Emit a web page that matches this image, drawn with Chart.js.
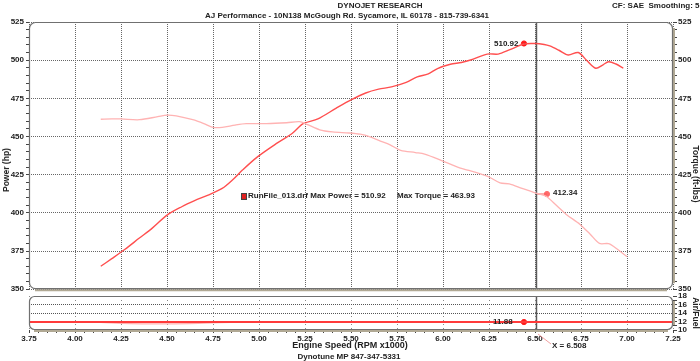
<!DOCTYPE html>
<html><head><meta charset="utf-8">
<script src="https://cdn.jsdelivr.net/npm/chart.js@4.4.1/dist/chart.umd.min.js"></script>
<style>
html,body{margin:0;padding:0;background:#fff;width:700px;height:361px;overflow:hidden;font-family:"Liberation Sans",Arial,sans-serif;}
canvas{position:absolute;left:0;}
#c1{top:0;}
#c2{top:290px;}
.t{position:absolute;white-space:nowrap;color:#222;font-weight:bold;font-size:8px;line-height:8px;}
.c{transform:translateX(-50%);}
</style></head><body>
<canvas id="c1" width="700" height="296" style="width:700px;height:296px"></canvas>
<canvas id="c2" width="700" height="71" style="width:700px;height:71px"></canvas>

<div class="t c" style="left:380px;top:2px;">DYNOJET RESEARCH</div>
<div class="t c" style="left:347px;top:12px;">AJ Performance - 10N138 McGough Rd. Sycamore, IL 60178 - 815-739-6341</div>
<div class="t" style="left:612px;top:2px;">CF: SAE&nbsp;&nbsp;Smoothing: 5</div>
<div class="t" style="left:6px;top:170px;transform:translate(-50%,-50%) rotate(-90deg);font-size:8.5px;">Power (hp)</div>
<div class="t" style="left:696px;top:174px;transform:translate(-50%,-50%) rotate(90deg);font-size:8.5px;">Torque (ft-lbs)</div>
<div class="t" style="left:696px;top:313px;transform:translate(-50%,-50%) rotate(90deg);font-size:8.5px;">Air/Fuel</div>
<div class="t c" style="left:350px;top:341px;font-size:9px;line-height:9px;">Engine Speed (RPM x1000)</div>
<div class="t c" style="left:349px;top:353px;">Dynotune MP 847-347-5331</div>
<div class="t" style="left:552px;top:342px;">X = 6.508</div>
<svg style="position:absolute;left:0;top:0" width="700" height="361"><line x1="538" y1="334" x2="551" y2="344" stroke="#f2a0a0" stroke-width="1"/></svg>

<div class="t" style="left:494px;top:40px;">510.92</div>
<div class="t" style="left:553px;top:189px;">412.34</div>
<div class="t" style="left:493px;top:318px;">11.88</div>
<div style="position:absolute;left:241px;top:193px;width:4px;height:5px;background:#e02020;border:1px solid #444;"></div>
<div class="t" style="left:248px;top:192px;">RunFile_013.drf Max Power = 510.92</div>
<div class="t" style="left:397px;top:192px;">Max Torque = 463.93</div>

<script>
// ---------- data ----------
const rpmPower = [4.14,4.20,4.27,4.35,4.42,4.50,4.58,4.65,4.72,4.80,4.86,4.91,4.99,5.10,5.18,5.24,5.32,5.42,5.50,5.58,5.65,5.72,5.80,5.86,5.92,5.97,6.04,6.10,6.15,6.24,6.30,6.36,6.44,6.50,6.55,6.58,6.63,6.68,6.735,6.78,6.83,6.87,6.90,6.94,6.98];
const powerHp = [365,370,376,383.5,390,398.5,404,408,411.5,416,422,428,436.5,445.8,452,458.4,461.5,468.6,474,478.5,481,482.5,485.5,489,491,494.5,497.3,498.5,500.1,504,504,506.7,510.6,510.9,510.3,509.3,506.5,503.4,505,500,494.7,497,499,497.5,494.7];
const rpmTorque = [4.14,4.20,4.25,4.35,4.45,4.50,4.55,4.64,4.70,4.75,4.80,4.87,4.93,5.04,5.15,5.22,5.26,5.33,5.40,5.49,5.55,5.60,5.66,5.71,5.77,5.85,5.90,5.99,6.09,6.15,6.20,6.25,6.31,6.36,6.43,6.50,6.56,6.62,6.67,6.745,6.80,6.85,6.90,6.95,7.00];
const torqueFtLb = [461.3,461.5,461.5,461,463,464,463.5,461,458.5,456,456,457.5,458.4,458.4,459,459.7,458,454.4,453,452.3,451.5,450,447,444.7,441,439.5,438.5,434.4,429.4,427.5,425.7,423.5,419.6,419,416,413.1,410.9,404.5,399,392.4,386,380,379.8,376,371.3];
const rpmAfr = [3.75,4.50,5.25,6.00,6.50,7.25];
const afrMain = [11.9,11.9,11.9,11.88,11.88,11.88];
const rpmAfr2 = [4.14,4.30,4.50,4.70,4.90,5.50,6.00];
const afrSecond = [11.8,11.5,11.45,11.6,11.85,11.85,11.85];
const cursorRpm = 6.508;
const maxPower = {rpm:6.44, value:510.92};
const torqueAtCursor = {rpm:6.565, value:412.34};
const afrAtCursor = {rpm:6.44, value:11.88};

const xMajor = [3.75,4.00,4.25,4.50,4.75,5.00,5.25,5.50,5.75,6.00,6.25,6.50,6.75,7.00,7.25];
const xLabels = ['3.75','4.00','4.25','4.50','4.75','5.00','5.25','5.50','5.75','6.00','6.25','6.50','6.75','7.00','7.25'];
const yMajor = [350,375,400,425,450,475,500,525];
const afrMajor = [10,12,14,16,18];
const afrGrid = [12,14,16];

// ---------- helpers ----------
const near = (v, arr) => arr.findIndex(m => Math.abs(m - v) < 1e-6);
const tickFont = {family:'Liberation Sans', size:8, weight:'bold'};
const pts = (xs, ys) => xs.map((x,i)=>({x, y: ys[i]}));

const framePlugin = {
  id:'frame',
  afterDraw(chart, args, opts){
    const {ctx, chartArea:a} = chart;
    const r = opts.r || 5;
    ctx.save();
    ctx.strokeStyle = '#b1a994'; ctx.lineWidth = 2;
    ctx.beginPath(); ctx.moveTo(a.left + r, a.bottom + 1); ctx.lineTo(a.right - r, a.bottom + 1); ctx.stroke();
    ctx.beginPath(); ctx.moveTo(a.right + 1, a.top + r); ctx.lineTo(a.right + 1, a.bottom - r); ctx.stroke();
    ctx.strokeStyle = '#707070'; ctx.lineWidth = 1.2;
    ctx.beginPath();
    ctx.roundRect(a.left + 0.5, a.top + 0.5, a.right - a.left - 1, a.bottom - a.top - 1, r);
    ctx.stroke();
    ctx.restore();
  }
};

const xMainScale = {
  type:'linear', min:3.75, max:7.25,
  afterFit(s){ s.height = 0; },
  ticks:{display:false, stepSize:0.25, autoSkip:false},
  grid:{color:'#666', drawTicks:false, lineWidth:1},
  border:{display:false, dash:[1,1]}
};

new Chart(document.getElementById('c1'), {
  type:'line',
  data:{datasets:[
    {data:pts(rpmTorque, torqueFtLb), yAxisID:'yT', borderColor:'#ffb3b3', borderWidth:1.3, pointRadius:0, tension:0.3},
    {data:pts(rpmPower, powerHp), yAxisID:'yP', borderColor:'#ff4f4f', borderWidth:1.4, pointRadius:0, tension:0.3},
    {data:[{x:cursorRpm,y:350},{x:cursorRpm,y:525}], yAxisID:'yP', borderColor:'#5a5a5a', borderWidth:1.5, pointRadius:0},
    {data:[{x:maxPower.rpm,y:maxPower.value},{x:cursorRpm,y:maxPower.value}], yAxisID:'yP', borderColor:'#333', borderWidth:1, pointRadius:0},
    {data:[{x:cursorRpm,y:torqueAtCursor.value},{x:torqueAtCursor.rpm,y:torqueAtCursor.value}], yAxisID:'yT', borderColor:'#ff5a5a', borderWidth:1.2, pointRadius:0},
    {type:'scatter', data:[{x:maxPower.rpm,y:maxPower.value}], yAxisID:'yP', pointRadius:2.6, pointBackgroundColor:'#ff1a1a', pointBorderColor:'#ff1a1a'},
    {type:'scatter', data:[{x:torqueAtCursor.rpm,y:torqueAtCursor.value}], yAxisID:'yT', pointRadius:2.6, pointBackgroundColor:'#ff6a6a', pointBorderColor:'#ff6a6a'}
  ]},
  options:{
    responsive:false, animation:false, devicePixelRatio:1,
    layout:{padding:{top:22, bottom:6, left:0, right:0}},
    plugins:{legend:{display:false}, tooltip:{enabled:false}, frame:{r:6}},
    scales:{
      x: xMainScale,
      yP:{position:'left', min:350, max:525,
        afterFit(s){ s.width = 29; },
        ticks:{stepSize:5, autoSkip:false, font:tickFont, color:'#222', padding:2,
          callback:(v)=> near(v, yMajor) >= 0 ? String(v) : ''},
        grid:{color:(c)=> c.tick && near(c.tick.value, yMajor) >= 0 ? '#666' : 'rgba(0,0,0,0)',
          tickColor:'#444', tickLength:3, drawTicks:true},
        border:{display:false, dash:[1,1]}},
      yT:{position:'right', min:350, max:525,
        afterFit(s){ s.width = 27; },
        ticks:{stepSize:5, autoSkip:false, font:tickFont, color:'#222', padding:1,
          callback:(v)=> near(v, yMajor) >= 0 ? String(v) : ''},
        grid:{drawOnChartArea:false, tickColor:'#444', tickLength:4},
        border:{display:false}}
    }
  },
  plugins:[framePlugin]
});

new Chart(document.getElementById('c2'), {
  type:'line',
  data:{datasets:[
    {data:pts(rpmAfr, afrMain), yAxisID:'yA', borderColor:'#ff3b3b', borderWidth:2, pointRadius:0, tension:0.2},
    {data:pts(rpmAfr2, afrSecond), yAxisID:'yA', borderColor:'rgba(255,170,170,0.9)', borderWidth:1.2, pointRadius:0, tension:0.4},
    {data:[{x:cursorRpm,y:10},{x:cursorRpm,y:18}], yAxisID:'yA', borderColor:'#5a5a5a', borderWidth:1.5, pointRadius:0},
    {type:'scatter', data:[{x:afrAtCursor.rpm,y:afrAtCursor.value}], yAxisID:'yA', pointRadius:2.6, pointBackgroundColor:'#ff1a1a', pointBorderColor:'#ff1a1a'}
  ]},
  options:{
    responsive:false, animation:false, devicePixelRatio:1,
    layout:{padding:{top:6, bottom:0, left:29, right:0}},
    plugins:{legend:{display:false}, tooltip:{enabled:false}, frame:{r:5}},
    scales:{
      x:{type:'linear', min:3.75, max:7.25,
        afterFit(s){ s.height = 31; },
        ticks:{stepSize:0.05, autoSkip:false, maxRotation:0, font:tickFont, color:'#222', padding:1,
          callback:(v)=>{ const i = near(v, xMajor); return i >= 0 ? xLabels[i] : ''; }},
        grid:{color:(c)=> c.tick && near(c.tick.value, xMajor) >= 0 ? '#8a8a8a' : 'rgba(0,0,0,0)',
          tickColor:'#444', tickLength:3, drawTicks:true},
        border:{display:false, dash:[1,3]}},
      yA:{position:'right', min:10, max:18,
        afterFit(s){ s.width = 27; },
        ticks:{stepSize:1, autoSkip:false, font:tickFont, color:'#222', padding:1,
          callback:(v)=> near(v, afrMajor) >= 0 ? String(v) : ''},
        grid:{color:(c)=> c.tick && near(c.tick.value, afrGrid) >= 0 ? '#555' : 'rgba(0,0,0,0)',
          tickColor:'#444', tickLength:4},
        border:{display:false, dash:[1,1]}}
    }
  },
  plugins:[framePlugin]
});
</script>
</body></html>
